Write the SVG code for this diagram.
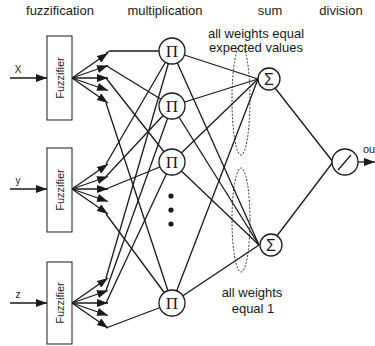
<svg xmlns="http://www.w3.org/2000/svg" width="375" height="346" viewBox="0 0 375 346">
<style>
.t{font-family:"Liberation Sans",Arial,sans-serif;fill:#1a1a1a}
.ln{stroke:#1a1a1a;stroke-width:1.3;fill:none}
.ar{stroke:#1a1a1a;stroke-width:1.3;fill:none;marker-end:url(#ah)}
.nd{fill:#fff;stroke:#1a1a1a;stroke-width:1.3}
.bx{fill:#fff;stroke:#1a1a1a;stroke-width:1}
.el{fill:none;stroke:#333;stroke-width:1;stroke-dasharray:2 1.5}
.pi{font-family:"Liberation Serif",serif;font-size:17px;text-anchor:middle;fill:#1a1a1a}
.sg{font-family:"Liberation Sans",sans-serif;font-size:16px;text-anchor:middle;fill:#1a1a1a}
</style>
<defs>
<marker id="ah" viewBox="0 0 11 8" refX="11" refY="4" markerWidth="11" markerHeight="8" markerUnits="userSpaceOnUse" orient="auto">
<path d="M0,0 L11,4 L0,8 Z" fill="#1a1a1a"/>
</marker>
</defs>
<rect width="375" height="346" fill="#fff"/>
<g id="headers" class="t" font-size="13" text-anchor="middle">
<text x="60" y="15">fuzzification</text>
<text x="165" y="15">multiplication</text>
<text x="270" y="15">sum</text>
<text x="341" y="15">division</text>
</g>
<g id="annotations">
<ellipse class="el" cx="241" cy="100" rx="9" ry="55"/>
<ellipse class="el" cx="241" cy="220" rx="9" ry="52"/>
<g class="t" font-size="13" text-anchor="middle">
<text x="256" y="38">all weights equal</text>
<text x="256" y="52">expected values</text>
<text x="252" y="297">all weights</text>
<text x="253" y="313">equal 1</text>
</g>
</g>
<g id="connectors">
<line class="ar" x1="10" y1="78" x2="47" y2="78"/>
<line class="ar" x1="10" y1="189" x2="47" y2="189"/>
<line class="ar" x1="10" y1="303" x2="47" y2="303"/>
<line class="ar" x1="72" y1="78" x2="108" y2="53"/>
<line class="ar" x1="72" y1="78" x2="108" y2="65.5"/>
<line class="ar" x1="72" y1="78" x2="108" y2="78"/>
<line class="ar" x1="72" y1="78" x2="108" y2="90.5"/>
<line class="ar" x1="72" y1="78" x2="108" y2="103"/>
<line class="ar" x1="72" y1="189" x2="108" y2="164"/>
<line class="ar" x1="72" y1="189" x2="108" y2="176.5"/>
<line class="ar" x1="72" y1="189" x2="108" y2="189"/>
<line class="ar" x1="72" y1="189" x2="108" y2="201.5"/>
<line class="ar" x1="72" y1="189" x2="108" y2="214"/>
<line class="ar" x1="72" y1="303" x2="108" y2="278"/>
<line class="ar" x1="72" y1="303" x2="108" y2="290.5"/>
<line class="ar" x1="72" y1="303" x2="108" y2="303"/>
<line class="ar" x1="72" y1="303" x2="108" y2="315.5"/>
<line class="ar" x1="72" y1="303" x2="108" y2="328"/>
<polyline class="ln" points="106,53 110,51 172,51"/>
<line class="ln" x1="106" y1="65.5" x2="172" y2="106"/>
<line class="ln" x1="106" y1="78" x2="172" y2="162"/>
<line class="ln" x1="106" y1="103" x2="172" y2="303"/>
<line class="ln" x1="106" y1="164" x2="172" y2="51"/>
<line class="ln" x1="106" y1="176.5" x2="172" y2="106"/>
<line class="ln" x1="106" y1="189" x2="172" y2="162"/>
<line class="ln" x1="106" y1="214" x2="172" y2="303"/>
<line class="ln" x1="106" y1="278" x2="172" y2="51"/>
<line class="ln" x1="106" y1="290.5" x2="172" y2="106"/>
<line class="ln" x1="106" y1="303" x2="172" y2="162"/>
<line class="ln" x1="106" y1="328" x2="172" y2="303"/>
<line class="ln" x1="172" y1="51" x2="258" y2="79"/>
<line class="ln" x1="172" y1="106" x2="258" y2="79"/>
<line class="ln" x1="172" y1="162" x2="258" y2="79"/>
<line class="ln" x1="172" y1="303" x2="258" y2="79"/>
<line class="ln" x1="172" y1="51" x2="259" y2="245"/>
<line class="ln" x1="172" y1="106" x2="259" y2="245"/>
<line class="ln" x1="172" y1="162" x2="259" y2="245"/>
<line class="ln" x1="172" y1="303" x2="259" y2="245"/>
<line class="ln" x1="268" y1="79" x2="333" y2="162"/>
<line class="ln" x1="270" y1="245" x2="333" y2="162"/>
<line class="ar" x1="358" y1="162" x2="375" y2="162"/>
</g>
<g id="input-labels" class="t" font-size="10" text-anchor="middle">
<text x="18" y="73">X</text>
<text x="18" y="184">y</text>
<text x="18" y="298">z</text>
<text x="363" y="153" text-anchor="start" font-size="11">ou</text>
</g>
<g id="fuzzifier-x">
<rect class="bx" x="47" y="36" width="25" height="84"/>
<text class="t" font-size="11" text-anchor="middle" transform="translate(63.5,78) rotate(-90)">Fuzzifier</text>
</g>
<g id="fuzzifier-y">
<rect class="bx" x="47" y="148" width="25" height="84"/>
<text class="t" font-size="11" text-anchor="middle" transform="translate(63.5,190) rotate(-90)">Fuzzifier</text>
</g>
<g id="fuzzifier-z">
<rect class="bx" x="47" y="262" width="25" height="82"/>
<text class="t" font-size="11" text-anchor="middle" transform="translate(63.5,303) rotate(-90)">Fuzzifier</text>
</g>
<g id="prod-1"><circle class="nd" cx="172" cy="51" r="13"/><text class="pi" x="172" y="57">Π</text></g>
<g id="prod-2"><circle class="nd" cx="172" cy="106" r="13"/><text class="pi" x="172" y="112">Π</text></g>
<g id="prod-3"><circle class="nd" cx="172" cy="162" r="13"/><text class="pi" x="172" y="168">Π</text></g>
<g id="dots" fill="#1a1a1a"><circle cx="171" cy="196" r="2.6"/><circle cx="171" cy="210" r="2.6"/><circle cx="171" cy="224" r="2.6"/></g>
<g id="prod-4"><circle class="nd" cx="172" cy="303" r="13"/><text class="pi" x="172" y="309">Π</text></g>
<g id="sum-1"><circle class="nd" cx="269" cy="79" r="11"/><text class="sg" x="269" y="85">Σ</text></g>
<g id="sum-2"><circle class="nd" cx="271" cy="245" r="11"/><text class="sg" x="271" y="251">Σ</text></g>
<g id="division"><circle class="nd" cx="345" cy="162" r="13"/><line class="ln" x1="338" y1="170" x2="351" y2="155"/></g>
</svg>
